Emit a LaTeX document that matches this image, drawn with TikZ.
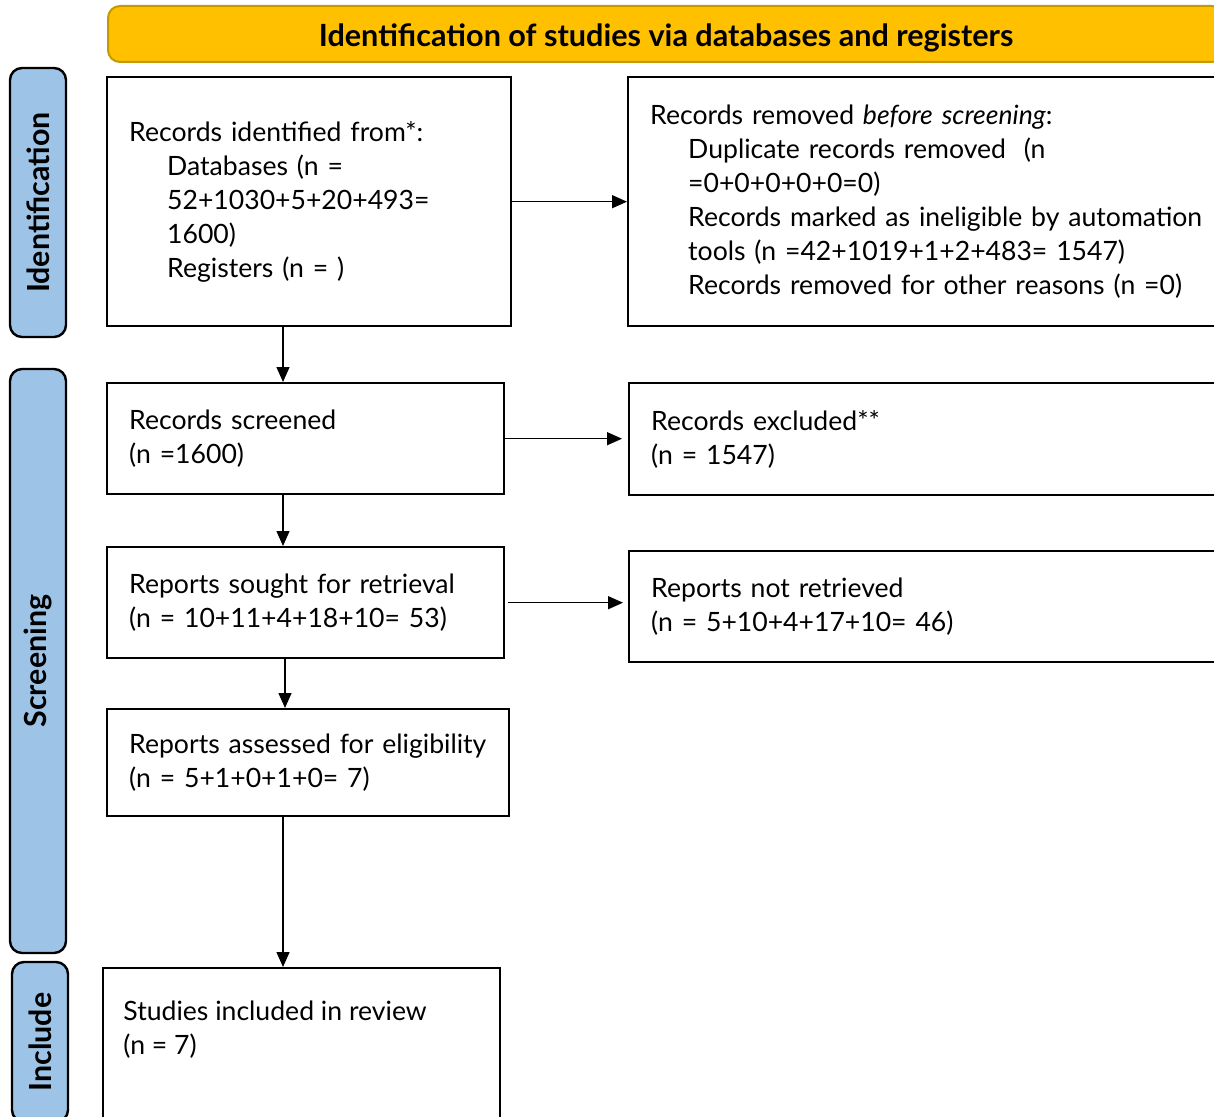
\documentclass[tikz,border=0pt]{standalone}
\usepackage{fontspec}
\setmainfont{Lato}
\usetikzlibrary{arrows.meta}
\definecolor{headgold}{HTML}{FFC000}
\definecolor{headedge}{HTML}{C49A00}
\definecolor{phaseblue}{HTML}{9DC3E6}
\newcommand{\ind}{\hspace*{19pt}}
\tikzset{
  box/.style={draw, line width=1.2pt, align=left, inner xsep=11pt, anchor=north west,
    font=\fontsize{13.3}{17}\selectfont},
  phase/.style={draw, line width=1.2pt, rounded corners=6pt, fill=phaseblue, rotate=90,
    minimum height=28pt, font=\fontsize{15.2}{16}\selectfont\bfseries},
  arr/.style={-{Triangle[length=7.5pt,width=6.5pt]}, line width=0.7pt},
}
\begin{document}
\begin{tikzpicture}[x=0.5pt,y=-0.5pt]
  \useasboundingbox (0,0) rectangle (1214,1117);
  \clip (0,0) rectangle (1214,1117);
  \coordinate (spine) at (283,0); % x of the down arrows

  % header and phase labels
  \node[draw=headedge, line width=1pt, fill=headgold, rounded corners=6pt,
    minimum width=558pt, minimum height=28pt, font=\fontsize{15.3}{16}\selectfont\bfseries]
    (head) at (666,34) {\raisebox{-6.5pt}[0pt][0pt]{Identification of studies via databases and registers}};
  \node[phase, minimum width=134.5pt] (idphase) at (38,202.5) {Identification};
  \node[phase, minimum width=292pt] (scphase) at (38,661) {Screening};
  \node[phase, minimum width=80pt] (inphase) at (40,1042) {Include};

  % boxes
  \node[box, text width=180pt, minimum height=124.5pt] (ident) at (106,76)
    {Records identified from*:\\
     \ind Databases (n =\\
     \ind 52+1030+5+20+493=\\
     \ind 1600)\\
     \ind Registers (n = )};
  \node[box, text width=328pt, minimum height=124.5pt] (removed) at (627,76)
    {Records removed \textit{before screening}:\\
     \ind Duplicate records removed\ \ (n\\
     \ind =0+0+0+0+0=0)\\
     \ind Records marked as ineligible by automation\\
     \ind tools (n =42+1019+1+2+483= 1547)\\
     \ind Records removed for other reasons (n =0)};
  \node[box, text width=176.5pt, minimum height=55.5pt] (screened) at (106,382)
    {Records screened\\(n =1600)};
  \node[box, text width=328pt, minimum height=56pt] (excluded) at (628,382)
    {Records excluded**\\(n = 1547)};
  \node[box, text width=176.5pt, minimum height=55.5pt] (sought) at (106,546)
    {Reports sought for retrieval\\(n = 10+11+4+18+10= 53)};
  \node[box, text width=328pt, minimum height=55.5pt] (notretr) at (628,550)
    {Reports not retrieved\\(n = 5+10+4+17+10= 46)};
  \node[box, text width=179pt, minimum height=53.5pt] (assessed) at (106,708)
    {Reports assessed for eligibility\\(n = 5+1+0+1+0= 7)};
  \node[box, text width=176.5pt, minimum height=110pt] (incl) at (102,967) {};
  \node[anchor=west, align=left, inner sep=0pt, font=\fontsize{13.3}{17}\selectfont]
    (incltext) at (123,1030) {Studies included in review\\(n = 7)};

  % arrows
  \draw[arr] (ident.east) -- (removed.west);
  \draw[arr] (ident.south -| spine) -- (screened.north -| spine);
  \draw[arr, shorten >=3pt] (screened.east) -- (screened.east -| excluded.west);
  \draw[arr] (screened.south -| spine) -- (sought.north -| spine);
  \draw[arr, shorten >=2.5pt] ([xshift=1.5pt]sought.east) -- (sought.east -| notretr.west);
  \draw[arr] ([xshift=1pt]sought.south -| spine) -- ([xshift=1pt]assessed.north -| spine);
  \draw[arr] (assessed.south -| spine) -- (incl.north -| spine);
\end{tikzpicture}
\end{document}
